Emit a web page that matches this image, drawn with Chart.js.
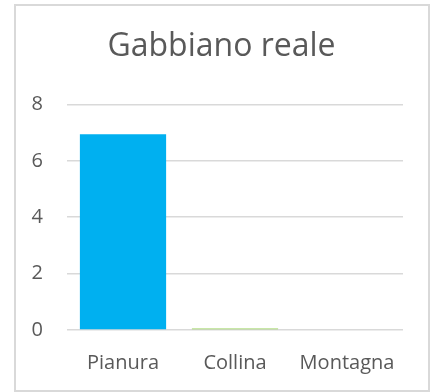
<!DOCTYPE html>
<html>
<head>
<meta charset="utf-8">
<script src="https://cdn.jsdelivr.net/npm/chart.js@4"></script>
<style>
  html, body { margin: 0; padding: 0; background: #fff; }
  #frame {
    position: absolute; left: 14px; top: 4px;
    width: 412px; height: 384px;
    border: 2px solid #d9d9d9;
  }
  #chart { display: block; }
</style>
</head>
<body>
<div id="frame"><canvas id="chart" width="412" height="384"></canvas></div>
<script>
const categories = ['Pianura', 'Collina', 'Montagna'];
const values = [6.94, 0.05, 0];
const barColors = ['#00B0F0', '#92D050', '#FFC000'];
const yTicks = [0, 2, 4, 6, 8];

const ctx = document.getElementById('chart');
const chart = new Chart(ctx, {
  type: 'bar',
  data: {
    labels: categories,
    datasets: [{
      label: 'Gabbiano reale',
      data: values,
      yAxisID: 'y',
      backgroundColor: barColors,
      categoryPercentage: 0.77,
      barPercentage: 1
    }]
  },
  options: {
    responsive: false,
    animation: false,
    layout: { padding: { left: 12, right: 13, top: 0, bottom: 10 } },
    plugins: {
      legend: { display: false },
      tooltip: { enabled: false },
      title: {
        display: true,
        text: 'Gabbiano reale',
        color: '#595959',
        font: { family: 'Open Sans', size: 32, weight: 'normal', lineHeight: 1.2 },
        padding: { top: 22, bottom: 38 }
      }
    },
    scales: {
      x: {
        grid: { display: false },
        border: { display: false },
        afterFit: (axis) => { axis.height = 50; },
        ticks: {
          color: '#595959',
          font: { family: 'Open Sans', size: 20 },
          padding: 13
        }
      },
      y: {
        min: 0,
        max: 8,
        afterBuildTicks: (axis) => { axis.ticks = yTicks.map(v => ({ value: v })); },
        afterFit: (axis) => { axis.width = 39; },
        grid: { color: '#d9d9d9', lineWidth: 1.5, drawTicks: false },
        border: { display: false },
        ticks: {
          color: '#595959',
          font: { family: 'Open Sans', size: 20 },
          padding: 24
        }
      },
      // empty axis on the right, only there to keep a gap after the gridlines
      yRight: {
        position: 'right',
        min: 0,
        max: 8,
        afterFit: (axis) => { axis.width = 12; },
        grid: { display: false },
        border: { display: false },
        ticks: { display: false }
      }
    }
  }
});
</script>
</body>
</html>
